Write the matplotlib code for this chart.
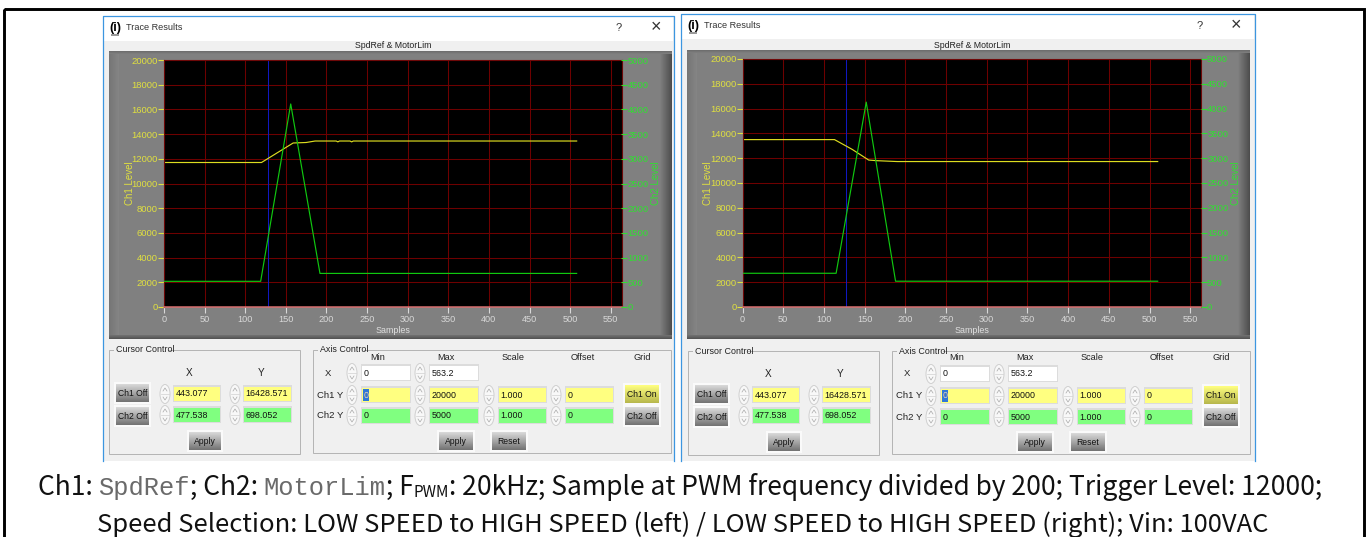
import numpy as np
import matplotlib
matplotlib.use("Agg")
import matplotlib.pyplot as plt
from matplotlib.patches import Rectangle, Ellipse

W, H = 1368, 537

# traces
left_x = [0, 120, 159, 175, 186, 212, 214, 216, 229, 231, 233, 508]
left_ch1 = [11700, 11700, 13280, 13320, 13440, 13440, 13370, 13440, 13440, 13370, 13440, 13440]
left_ch2_x = [0, 119, 156, 192, 508]
left_ch2 = [520, 520, 4110, 680, 680]

right_x = [0, 113, 135, 155, 165, 190, 510]
right_ch1 = [13500, 13500, 12700, 11850, 11800, 11730, 11730]
right_ch2_x = [0, 115, 152, 188, 510]
right_ch2 = [680, 680, 4130, 520, 520]

cursor_x = 127.5
x_ticks = list(range(0, 551, 50))
ch1_ticks = list(range(0, 20001, 2000))
ch2_ticks = list(range(0, 5001, 500))

cursor_vals = [["443.077", "16428.571"], ["477.538", "698.052"]]
axis_vals = [["0", "563.2", None, None], ["0", "20000", "1.000", "0"], ["0", "5000", "1.000", "0"]]

YEL = "#ffff80"
GRN = "#80ff80"
BG = "#f0f0f0"
BLUE = "#3c96e0"
UI = "Liberation Sans"

fig = plt.figure(figsize=(W / 100, H / 100), dpi=100, facecolor="white")
bg = fig.add_axes([0, 0, 1, 1])
bg.set_axis_off()


def rect(x0, y0, x1, y1, fc="none", ec="none", lw=1, z=1):
    bg.add_patch(Rectangle((x0, y0), x1 - x0, y1 - y0, fc=fc, ec=ec, lw=lw, zorder=z))


def txt(x, y, s, size=6.6, color="#222222", ha="center", z=6, **kw):
    bg.text(x, y + 1, s, fontsize=size, color=color, ha=ha, va="center", family=UI, zorder=z, **kw)


def grad(x0, y0, x1, y1, c0, c1, horizontal=False, z=2):
    # simple two colour ramp, used for the bevels and buttons
    t = np.linspace(c0, c1, 32)
    img = t.reshape(1, -1) if horizontal else t.reshape(-1, 1)
    bg.imshow(img, extent=(x0, x1, y1, y0), cmap="gray", vmin=0, vmax=1, aspect="auto", zorder=z,
              interpolation="bilinear")


def button(x0, y0, x1, y1, label, on=False):
    rect(x0 - 2, y0 - 2, x1 + 2, y1 + 2, fc="#fafafa", z=2)
    if on:
        t = np.linspace(0, 1, 32).reshape(-1, 1, 1)
        img = (1 - t) * np.array([1.0, 1.0, 0.5]) + t * np.array([0.72, 0.72, 0.3])
        bg.imshow(img, extent=(x0, x1, y1, y0), aspect="auto", zorder=3)
    else:
        grad(x0, y0, x1, y1, 0.85, 0.45, z=3)
    txt((x0 + x1) / 2, (y0 + y1) / 2 - 0.5, label, size=6.2, color="#111111")


def spinner(cx, cy):
    bg.add_patch(Ellipse((cx, cy), 10, 19, fc="#f8f8f8", ec="#d0d0d0", lw=0.7, zorder=3))
    bg.plot([cx - 4, cx + 4], [cy, cy], color="#d0d0d0", lw=0.5, zorder=4)
    bg.plot([cx - 2, cx, cx + 2], [cy - 3, cy - 6, cy - 3], color="#a8a8a8", lw=0.5, zorder=4)
    bg.plot([cx - 2, cx, cx + 2], [cy + 3, cy + 6, cy + 3], color="#a8a8a8", lw=0.5, zorder=4)


def field(x0, y0, x1, y1, val, fc):
    rect(x0 - 1, y0 - 2, x1 + 1, y1 + 1, fc="#dcdcdc", z=2)
    rect(x0, y0, x1, y1, fc=fc, z=3)
    txt(x0 + 1.5, (y0 + y1) / 2 - 1, val, ha="left", size=6.4, color="#111111")


def group(x0, y0, x1, y1, label, lab_w):
    rect(x0, y0, x1, y1, ec="#b4b4b4", lw=0.7, z=2)
    rect(x0 + 5, y0 - 2, x0 + 5 + lab_w, y0 + 2, fc=BG, z=3)
    txt(x0 + 7, y0 - 1, label, ha="left", size=6.4)


def controls(dx, dy):
    # cursor box
    group(109 + dx, 350 + dy, 300 + dx, 454 + dy, "Cursor Control", 54)
    txt(189 + dx, 372 + dy, "X", size=7.2)
    txt(261 + dx, 372 + dy, "Y", size=7.2)
    button(116 + dx, 384 + dy, 149 + dx, 402 + dy, "Ch1 Off")
    button(116 + dx, 407 + dy, 149 + dx, 425 + dy, "Ch2 Off")
    for r, (y0, fc) in enumerate([(387, YEL), (408, GRN)]):
        spinner(165 + dx, y0 + 7 + dy)
        field(174 + dx, y0 + dy, 220 + dx, y0 + 14 + dy, cursor_vals[r][0], fc)
        spinner(235 + dx, y0 + 7 + dy)
        field(244 + dx, y0 + dy, 291 + dx, y0 + 14 + dy, cursor_vals[r][1], fc)
    button(189 + dx, 432 + dy, 221 + dx, 450 + dy, "Apply")

    # axis box
    group(313 + dx, 350 + dy, 671 + dx, 453 + dy, "Axis Control", 46)
    for s, xc in [("Min", 378), ("Max", 446), ("Scale", 513), ("Offset", 583), ("Grid", 642)]:
        txt(xc + dx, 356 + dy, s)
    rows = [(366, "white", "X", 328), (388, YEL, "Ch1 Y", 330), (409, GRN, "Ch2 Y", 330)]
    cols = [(362, 410), (430, 478), (499, 546), (566, 613)]
    for r, (y0, fc, lab, lx) in enumerate(rows):
        txt(lx + dx, y0 + 6 + dy, lab, size=6.8)
        for c, (x0, x1) in enumerate(cols):
            if axis_vals[r][c] is None:
                continue
            spinner(x0 - 10 + dx, y0 + 7 + dy)
            field(x0 + dx, y0 + dy, x1 + dx, y0 + 14 + dy, axis_vals[r][c], fc)
    # selected min value
    rect(363 + dx, 389 + dy, 369 + dx, 401 + dy, fc="#3078d8", z=5)
    txt(363.5 + dx, 394 + dy, "0", ha="left", size=6.4, color="white", z=7)
    button(625 + dx, 385 + dy, 659 + dx, 403 + dy, "Ch1 On", on=True)
    button(625 + dx, 407 + dy, 659 + dx, 425 + dy, "Ch2 Off")
    button(439 + dx, 432 + dy, 473 + dx, 450 + dy, "Apply")
    button(492 + dx, 432 + dy, 526 + dx, 450 + dy, "Reset")


def scope(win, panel, plot, t_y, tx, ch1, t2x, ch2):
    wx0, wy0, wx1, wy1 = win
    px0, py0, px1, py1 = panel
    ax0, ay0, ax1, ay1 = plot

    rect(wx0, wy0, wx1, wy1, fc=BG, z=1)
    rect(wx0 + 1, wy0 + 1, wx1 - 1, t_y + 13, fc="white", z=1)
    # the window border has no bottom edge in the screenshot
    bg.plot([wx0, wx0, wx1, wx1], [wy1, wy0, wy0, wy1], color=BLUE, lw=0.9, zorder=2)
    # icon and title bar
    txt(wx0 + 12, t_y - 1, "(i)", size=9, color="black", fontweight="bold")
    rect(wx0 + 8, t_y + 6, wx0 + 16, t_y + 8, fc="#999999", z=2)
    txt(wx0 + 23, t_y - 1, "Trace Results", ha="left", size=6.6, color="#333333")
    txt(wx1 - 55, t_y - 1, "?", size=8, color="#333333")
    txt(wx1 - 18, t_y - 1, "\u00d7", size=13, color="#333333")

    txt((ax0 + ax1) / 2, py0 - 6, "SpdRef & MotorLim", size=6.3)

    # grey panel with bevelled sides
    rect(px0, py0, px1, py1, fc="#808080", z=2)
    grad(px0, py0, px0 + 10, py1, 0.46, 0.52, horizontal=True, z=2)
    grad(px1 - 12, py0, px1, py1, 0.5, 0.3, horizontal=True, z=2)
    grad(px0, py1 - 4, px1, py1, 0.45, 0.32, z=2)
    grad(px0, py0, px1, py0 + 3, 0.42, 0.5, z=2)

    ax = fig.add_axes([ax0 / W, 1 - ay1 / H, (ax1 - ax0) / W, (ay1 - ay0) / H], facecolor="black")
    ax.set_xlim(0, 563.2)
    ax.set_ylim(0, 20000)
    ax.set_xticks(x_ticks)
    ax.set_yticks(ch1_ticks)
    ax.grid(True, color="#6e0000", lw=0.75)
    ax.set_axisbelow(True)
    ax.tick_params(axis="x", colors="#d8d8d8", labelsize=6.6, length=4.2, width=0.8, pad=1.5)
    ax.tick_params(axis="y", colors="#e0e040", labelsize=6.8, length=4.2, width=0.8, pad=0.2)
    for s in ax.spines.values():
        s.set_color("#6e0808")
        s.set_linewidth(0.8)
    ax.spines["bottom"].set_color("#d87070")
    ax.spines["bottom"].set_linewidth(1.1)
    ax.set_xlabel("Samples", color="#e0e0e0", fontsize=6.4)
    ax.xaxis.set_label_coords(0.5, -0.077)
    ax.set_ylabel("Ch1 Level", color="#e0e040", fontsize=7)
    ax.yaxis.set_label_coords(-0.064, 0.5)
    ax.axvline(cursor_x, color="#1018c0", lw=0.75)
    ax.plot(tx, ch1, color="#dcdc20", lw=0.85)

    ax2 = ax.twinx()
    ax2.set_ylim(0, 5000)
    ax2.set_yticks(ch2_ticks)
    ax2.tick_params(axis="y", colors="#30e030", labelsize=6.8, length=4.2, width=0.8, pad=0.2)
    ax2.set_ylabel("Ch2 Level", color="#30e030", fontsize=7)
    ax2.yaxis.set_label_coords(1.065, 0.5)
    for s in ax2.spines.values():
        s.set_visible(False)
    ax2.plot(t2x, ch2, color="#10c810", lw=0.85)
    for a in (ax, ax2):
        for lab in a.get_xticklabels() + a.get_yticklabels():
            lab.set_family(UI)
        a.xaxis.label.set_family(UI)
        a.yaxis.label.set_family(UI)


def caption(y, runs, cx):
    # runs are laid out one after another so the line can be centred
    r = fig.canvas.get_renderer()
    items = []
    total = 0
    for s, fam, size, off, col in runs:
        t = bg.text(0, y + off, s, family=fam, fontsize=size, color=col, ha="left", va="baseline", zorder=6)
        w = t.get_window_extent(r).width
        items.append((t, w))
        total += w
    x = cx - total / 2
    for t, w in items:
        t.set_x(x)
        x += w


rect(3.5, 9, 1363.5, 560, ec="black", lw=2.1, z=1)

scope((103, 16, 674, 461), (109, 51, 672, 339), (164, 60, 621.5, 307), 28, left_x, left_ch1, left_ch2_x, left_ch2)
scope((681, 14, 1254.5, 461), (687, 50, 1250, 339), (742.5, 59, 1201, 307), 26, right_x, right_ch1, right_ch2_x, right_ch2)
controls(0, 0)
controls(579, 1)

bg.set_xlim(0, W)
bg.set_ylim(H, 0)

FS1 = 19.05
FS2 = 18.4
MONO = "Liberation Mono"
SANS = "Noto Sans CJK SC"
K = "#111111"
G = "#6a6a6a"
caption(495, [("Ch1: ", SANS, FS1, 0, K), ("SpdRef", MONO, 18.4, 0, G), ("; Ch2: ", SANS, FS1, 0, K),
              ("MotorLim", MONO, 18.4, 0, G), ("; F", SANS, FS1, 0, K), ("PWM", SANS, 11, 2, K),
              (": 20kHz; Sample at PWM frequency divided by 200; Trigger Level: 12000;", SANS, FS1, 0, K)], 680)
caption(532, [("Speed Selection: LOW SPEED to HIGH SPEED (left) / LOW SPEED to HIGH SPEED (right); Vin: 100VAC",
               SANS, FS2, 0, K)], 683)

fig.savefig("out.png", dpi=100, facecolor="white")
